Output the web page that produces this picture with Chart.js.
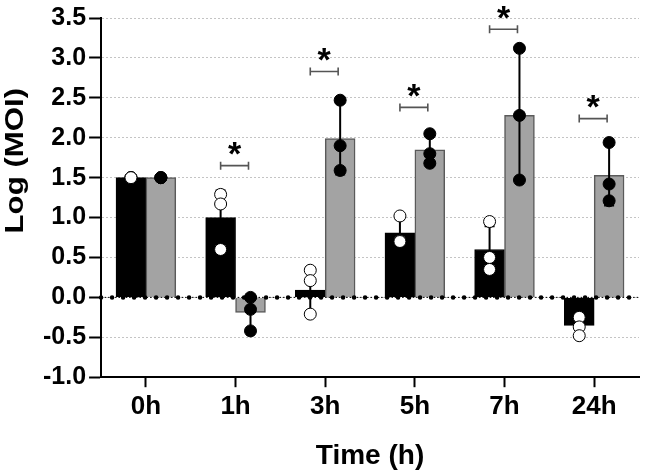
<!DOCTYPE html>
<html>
<head>
<meta charset="utf-8">
<script src="https://cdn.jsdelivr.net/npm/chart.js@4.4.1/dist/chart.umd.min.js"></script>
<style>
  html, body { margin: 0; padding: 0; background: #fff; }
  #wrap { width: 646px; height: 473px; position: relative; }
</style>
</head>
<body>
<div id="wrap"><canvas id="chart"></canvas></div>
<script>
// categories
const timeLabels = ['0h', '1h', '3h', '5h', '7h', '24h'];

// black bars (open points)
const blackMean = [1.50, 1.00, 0.09, 0.81, 0.60, -0.35];
const blackSD = [0.00, 0.34, 0.28, 0.17, 0.29, 0.11];
const blackPoints = [
    [1.50, 1.50, 1.50],
    [1.29, 1.17, 0.60],
    [0.34, 0.21, -0.21],
    [1.02, 0.71, 0.70],
    [0.95, 0.50, 0.35],
    [-0.25, -0.37, -0.48]
];

// grey bars (filled points)
const greyMean = [1.50, -0.19, 1.99, 1.85, 2.28, 1.53];
const greySD = [0.00, 0.21, 0.45, 0.19, 0.82, 0.38];
const greyPoints = [
    [1.50, 1.50, 1.50],
    [0.00, -0.15, -0.42],
    [2.47, 1.90, 1.59],
    [2.05, 1.80, 1.68],
    [3.12, 2.28, 1.47],
    [1.94, 1.42, 1.21]
];

// height of significance brackets (null = none)
const sigLevels = [null, 1.65, 2.83, 2.38, 3.36, 2.24];

const FONT = '"Liberation Sans", Arial, sans-serif';
const barShift = 1 / 6; // bar centre offset inside a group, in category units

const toBars = (vals, shift) => vals.map((v, i) => ({ x: i + shift, y: v }));
const toPoints = (groups, shift) => {
    const out = [];
    groups.forEach((vals, i) => vals.forEach(v => out.push({ x: i + shift, y: v })));
    return out;
};

const errorBars = {
    id: 'errorBars',
    afterDatasetDraw(chart, args) {
        if (args.index !== 1) return;
        const ctx = chart.ctx;
        const y = chart.scales.y;
        const area = chart.chartArea;

        // dotted zero line
        const y0 = y.getPixelForValue(0);
        ctx.save();
        ctx.strokeStyle = '#000';
        ctx.lineWidth = 1;
        ctx.setLineDash([1.5, 2]);
        ctx.beginPath();
        ctx.moveTo(area.left, y0);
        ctx.lineTo(area.right, y0);
        ctx.stroke();
        ctx.lineWidth = 4.5;
        ctx.lineCap = 'round';
        ctx.setLineDash([0, 11]);
        ctx.lineDashOffset = -11;
        ctx.beginPath();
        ctx.moveTo(area.left, y0);
        ctx.lineTo(area.right, y0);
        ctx.stroke();
        ctx.restore();

        // mean +/- SD
        const sets = [[0, blackMean, blackSD], [1, greyMean, greySD]];
        ctx.save();
        ctx.strokeStyle = '#000';
        ctx.lineWidth = 2;
        sets.forEach(([di, mean, sd]) => {
            const meta = chart.getDatasetMeta(di);
            meta.data.forEach((bar, i) => {
                if (!sd[i]) return;
                const top = y.getPixelForValue(mean[i] + sd[i]);
                const bot = y.getPixelForValue(mean[i] - sd[i]);
                ctx.beginPath();
                ctx.moveTo(bar.x, top);
                ctx.lineTo(bar.x, bot);
                ctx.moveTo(bar.x - 5, top);
                ctx.lineTo(bar.x + 5, top);
                ctx.moveTo(bar.x - 5, bot);
                ctx.lineTo(bar.x + 5, bot);
                ctx.stroke();
            });
        });
        ctx.restore();
    }
};

const annotations = {
    id: 'annotations',
    afterDraw(chart) {
        const ctx = chart.ctx;
        const y = chart.scales.y;
        const black = chart.getDatasetMeta(0).data;
        const grey = chart.getDatasetMeta(1).data;
        ctx.save();
        ctx.font = 'bold 34px ' + FONT;
        ctx.textAlign = 'center';
        sigLevels.forEach((lvl, i) => {
            if (lvl === null) return;
            const x1 = black[i].x;
            const x2 = grey[i].x - 2;
            const py = y.getPixelForValue(lvl);
            ctx.strokeStyle = '#555';
            ctx.lineWidth = 1.6;
            ctx.beginPath();
            ctx.moveTo(x1, py);
            ctx.lineTo(x2, py);
            ctx.moveTo(x1, py - 4);
            ctx.lineTo(x1, py + 4);
            ctx.moveTo(x2, py - 4);
            ctx.lineTo(x2, py + 4);
            ctx.stroke();
            const m = ctx.measureText('*');
            const mid = (m.actualBoundingBoxAscent - m.actualBoundingBoxDescent) / 2;
            ctx.fillStyle = '#000';
            ctx.fillText('*', (x1 + x2) / 2, py - 17 + mid);
        });
        ctx.restore();

        // y axis title, a little stretched along its length like the original
        const cy = (y.getPixelForValue(0) + y.getPixelForValue(3.5)) / 2 + 3;
        ctx.save();
        ctx.translate(16, cy);
        ctx.rotate(-Math.PI / 2);
        ctx.scale(1.2, 1);
        ctx.font = 'bold 26px ' + FONT;
        ctx.textAlign = 'center';
        ctx.textBaseline = 'middle';
        ctx.fillStyle = '#000';
        ctx.fillText('Log (MOI)', 0, 0);
        ctx.restore();
    }
};

new Chart(document.getElementById('chart'), {
    type: 'bar',
    data: {
        datasets: [
            {
                data: toBars(blackMean, -barShift),
                backgroundColor: '#000',
                borderColor: '#000',
                borderWidth: 1,
                order: 4
            },
            {
                data: toBars(greyMean, barShift),
                backgroundColor: '#a3a3a3',
                borderColor: '#5a5a5a',
                borderWidth: 1.5,
                order: 3
            },
            {
                type: 'scatter',
                data: toPoints(blackPoints, -barShift),
                pointRadius: 6,
                pointBackgroundColor: '#fff',
                pointBorderColor: '#000',
                pointBorderWidth: 1,
                order: 2
            },
            {
                type: 'scatter',
                data: toPoints(greyPoints, barShift),
                pointRadius: 6,
                pointBackgroundColor: '#000',
                pointBorderColor: '#000',
                pointBorderWidth: 1,
                order: 1
            }
        ]
    },
    options: {
        responsive: true,
        maintainAspectRatio: false,
        animation: false,
        events: [],
        layout: { padding: { top: -3, right: 0, bottom: 0, left: 40 } },
        datasets: {
            bar: { grouped: false, categoryPercentage: 1, barPercentage: 1 }
        },
        plugins: {
            legend: { display: false },
            tooltip: { enabled: false }
        },
        scales: {
            x: {
                type: 'linear',
                min: -0.5,
                max: 5.5,
                offset: false,
                afterBuildTicks: s => { s.ticks = timeLabels.map((_, i) => ({ value: i })); },
                grid: {
                    offset: false,
                    drawOnChartArea: false,
                    drawTicks: true,
                    tickLength: 10,
                    tickColor: '#000',
                    tickWidth: 2
                },
                border: { color: '#000', width: 2 },
                ticks: {
                    color: '#000',
                    padding: 4,
                    maxRotation: 0,
                    font: { family: FONT, size: 26, weight: 'bold' },
                    callback: v => timeLabels[v]
                },
                title: {
                    display: true,
                    text: 'Time (h)',
                    color: '#000',
                    padding: { top: 13, bottom: 0 },
                    font: { family: FONT, size: 28, weight: 'bold' }
                }
            },
            y: {
                min: -1,
                max: 3.5,
                grid: {
                    color: '#c4c4c4',
                    lineWidth: 1,
                    tickLength: 12,
                    tickColor: '#000',
                    tickWidth: 2
                },
                border: { color: '#000', width: 2, dash: [2, 2] },
                ticks: {
                    stepSize: 0.5,
                    color: '#000',
                    padding: 3,
                    font: { family: FONT, size: 25, weight: 'bold' },
                    callback: v => v.toFixed(1)
                }
            }
        }
    },
    plugins: [errorBars, annotations]
});
</script>
</body>
</html>
